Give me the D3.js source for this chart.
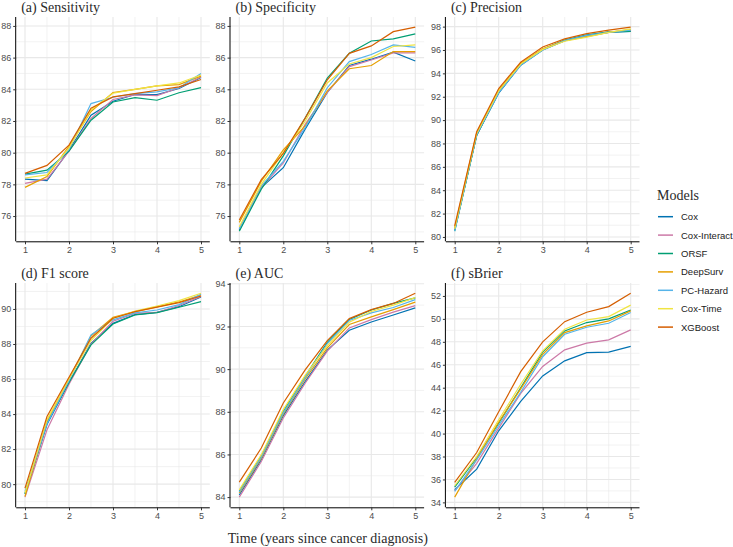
<!DOCTYPE html>
<html lang="en">
<head>
<meta charset="UTF-8">
<title>Model metrics over time</title>
<style>
  body { margin: 0; background: #fff; }
  svg { display: block; }
  .tick text { font-family: "Liberation Sans", Arial, sans-serif; font-size: 9px; fill: #4d4d4d; }
  .title { font-family: "Liberation Serif", "Times New Roman", serif; font-size: 14px; font-weight: 400; fill: #2a2a2a; }
  .legend-label { font-family: "Liberation Sans", Arial, sans-serif; font-size: 9.5px; fill: #1a1a1a; }
</style>
</head>
<body>
<script src="https://d3js.org/d3.v7.min.js"></script>
<script>
var width = 733, height = 547;

var years = [1, 1.5, 2, 2.5, 3, 3.5, 4, 4.5, 5];
var xTicks = [1, 2, 3, 4, 5];
var models = ["Cox", "Cox-Interact", "ORSF", "DeepSurv", "PC-Hazard", "Cox-Time", "XGBoost"];
var colors = ["#0072B2", "#CC79A7", "#009E73", "#E69F00", "#56B4E9", "#F0E442", "#D55E00"];

// one row per model, same order as models
var sensitivity = [
  [78.33, 78.23, 80.15, 82.37, 83.25, 83.67, 83.67, 84.05, 84.74],
  [78.06, 78.33, 80.10, 82.16, 83.36, 83.65, 83.60, 84.10, 84.78],
  [78.65, 78.90, 80.10, 82.05, 83.20, 83.48, 83.31, 83.78, 84.11],
  [77.81, 78.50, 80.40, 82.60, 83.80, 84.00, 84.22, 84.30, 84.83],
  [78.60, 78.75, 80.20, 83.10, 83.50, 83.73, 83.84, 84.10, 85.00],
  [78.40, 78.60, 80.30, 82.70, 83.75, 84.00, 84.22, 84.40, 84.90],
  [78.69, 79.20, 80.48, 82.80, 83.52, 83.73, 83.94, 84.15, 84.62]
];
var specificity = [
  [75.10, 77.80, 79.05, 81.50, 83.80, 85.50, 85.90, 86.35, 85.79],
  [75.20, 77.80, 79.35, 81.80, 83.80, 85.43, 85.85, 86.30, 86.30],
  [75.05, 77.70, 79.80, 82.20, 84.70, 86.27, 87.05, 87.18, 87.50],
  [75.60, 78.20, 80.17, 81.70, 83.90, 85.30, 85.50, 86.38, 86.38],
  [75.20, 77.90, 79.45, 81.60, 84.10, 85.75, 86.20, 86.80, 86.65],
  [75.32, 78.00, 80.00, 82.00, 84.40, 85.60, 86.00, 86.70, 86.80],
  [75.75, 78.30, 79.96, 82.20, 84.60, 86.27, 86.74, 87.64, 87.92]
];
var precision = [
  [80.60, 88.70, 92.30, 94.70, 96.00, 96.80, 97.20, 97.50, 97.60],
  [80.60, 88.75, 92.40, 94.75, 96.05, 96.80, 97.20, 97.55, 97.65],
  [80.50, 88.70, 92.40, 94.75, 96.05, 96.85, 97.30, 97.55, 97.60],
  [80.80, 88.90, 92.55, 94.85, 96.10, 96.80, 97.15, 97.50, 97.75],
  [80.50, 88.75, 92.35, 94.70, 96.00, 96.80, 97.25, 97.50, 97.70],
  [80.70, 88.85, 92.50, 94.80, 96.05, 96.75, 97.10, 97.50, 97.80],
  [80.95, 89.00, 92.70, 94.95, 96.25, 96.95, 97.40, 97.70, 97.95]
];
var f1score = [
  [79.45, 83.40, 85.80, 88.04, 89.18, 89.68, 89.81, 90.13, 90.68],
  [79.26, 83.10, 85.70, 88.00, 89.30, 89.75, 89.80, 90.20, 90.72],
  [79.45, 83.50, 85.80, 87.95, 89.14, 89.66, 89.79, 90.10, 90.42],
  [79.30, 83.60, 86.00, 88.46, 89.52, 89.85, 90.12, 90.40, 90.80],
  [79.58, 83.45, 85.90, 88.52, 89.38, 89.78, 89.94, 90.25, 90.84],
  [79.50, 83.67, 86.00, 88.20, 89.47, 89.88, 90.17, 90.48, 90.90],
  [79.77, 83.86, 86.10, 88.33, 89.47, 89.85, 90.10, 90.36, 90.74]
];
var auc = [
  [84.10, 85.75, 87.82, 89.43, 90.89, 91.82, 92.21, 92.54, 92.87],
  [84.00, 85.67, 87.71, 89.35, 90.84, 91.93, 92.32, 92.67, 92.98],
  [84.27, 85.92, 88.02, 89.67, 91.26, 92.33, 92.77, 93.08, 93.34],
  [84.19, 85.83, 87.90, 89.55, 91.00, 92.09, 92.45, 92.79, 93.14],
  [84.24, 85.88, 87.95, 89.62, 91.20, 92.28, 92.64, 92.89, 93.26],
  [84.34, 85.99, 88.10, 89.72, 91.10, 92.20, 92.70, 93.00, 93.35],
  [84.70, 86.30, 88.41, 89.98, 91.34, 92.37, 92.79, 93.08, 93.56]
];
var sbrier = [
  [35.10, 36.90, 40.24, 42.80, 45.03, 46.34, 47.06, 47.10, 47.60],
  [35.00, 37.40, 40.47, 43.50, 45.85, 47.30, 47.88, 48.17, 49.04],
  [35.33, 37.90, 40.90, 44.00, 47.10, 48.95, 49.68, 50.00, 50.78],
  [34.46, 37.80, 41.00, 43.90, 46.90, 48.80, 49.39, 49.82, 50.70],
  [34.96, 37.70, 40.70, 43.60, 46.70, 48.66, 49.27, 49.62, 50.55],
  [35.45, 38.00, 41.20, 44.30, 47.20, 49.10, 49.90, 50.20, 51.20],
  [35.74, 38.35, 41.90, 45.40, 48.00, 49.76, 50.58, 51.07, 52.24]
];

var titles = ["(a) Sensitivity", "(b) Specificity", "(c) Precision", "(d) F1 score", "(e) AUC", "(f) sBrier"];
var yTicks = [
  d3.range(76, 89, 2), d3.range(76, 89, 2), d3.range(80, 99, 2),
  d3.range(80, 91, 2), d3.range(84, 95, 2), d3.range(34, 53, 2)
];
var panelData = [sensitivity, specificity, precision, f1score, auc, sbrier];
// (a) and (b) share one y range
var rangeData = [sensitivity.concat(specificity), sensitivity.concat(specificity), precision, f1score, auc, sbrier];

var colLeft = [16.2, 230.5, 445.9], panelW = 193.6;
var rowTop = [17, 283], panelH = 224.3;

var svg = d3.select('body').append('svg')
    .attr('width', width)
    .attr('height', height);

function expand(ext) {
  var pad = (ext[1] - ext[0]) * 0.05;
  return [ext[0] - pad, ext[1] + pad];
}

panelData.forEach(function(series, i) {
  var left = colLeft[i % 3], top = rowTop[Math.floor(i / 3)];
  var g = svg.append('g').attr('transform', 'translate(' + left + ',' + top + ')');

  var x = d3.scaleLinear().domain(expand([1, 5])).range([0, panelW]);
  var yDom = expand(d3.extent(d3.merge(rangeData[i])));
  var y = d3.scaleLinear().domain(yDom).range([panelH, 0]);

  var ys = yTicks[i];
  var step = ys[1] - ys[0];
  var yMinor = d3.range(ys[0] - step / 2, ys[ys.length - 1] + step, step)
      .filter(function(v) { return v >= yDom[0] && v <= yDom[1]; });
  var xMinor = [1.5, 2.5, 3.5, 4.5];

  // grid
  g.selectAll('.ymin').data(yMinor).enter().append('line')
    .attr('x1', 0).attr('x2', panelW)
    .attr('y1', function(d) { return y(d); }).attr('y2', function(d) { return y(d); })
    .attr('stroke', '#eaeaea').attr('stroke-width', 0.6);
  g.selectAll('.xmin').data(xMinor).enter().append('line')
    .attr('y1', 0).attr('y2', panelH)
    .attr('x1', function(d) { return x(d); }).attr('x2', function(d) { return x(d); })
    .attr('stroke', '#eaeaea').attr('stroke-width', 0.6);
  g.selectAll('.ymaj').data(ys).enter().append('line')
    .attr('x1', 0).attr('x2', panelW)
    .attr('y1', function(d) { return y(d); }).attr('y2', function(d) { return y(d); })
    .attr('stroke', '#e8e8e8').attr('stroke-width', 1.1);
  g.selectAll('.xmaj').data(xTicks).enter().append('line')
    .attr('y1', 0).attr('y2', panelH)
    .attr('x1', function(d) { return x(d); }).attr('x2', function(d) { return x(d); })
    .attr('stroke', '#e8e8e8').attr('stroke-width', 1.1);

  // lines
  var line = d3.line()
    .x(function(d, j) { return x(years[j]); })
    .y(function(d) { return y(d); });
  g.selectAll('path.line').data(series).enter().append('path')
    .attr('class', 'line')
    .attr('fill', 'none')
    .attr('stroke', function(d, k) { return colors[k]; })
    .attr('stroke-width', 1.2)
    .attr('d', line);

  // axes
  var xAxis = g.append('g').attr('transform', 'translate(0,' + panelH + ')')
    .call(d3.axisBottom(x).tickValues(xTicks).tickSize(3).tickPadding(2).tickFormat(d3.format('d')));
  var yAxis = g.append('g')
    .call(d3.axisLeft(y).tickValues(ys).tickSize(3).tickPadding(2).tickFormat(d3.format('d')));
  [xAxis, yAxis].forEach(function(a) {
    a.select('.domain').attr('stroke', '#000').attr('stroke-width', 1);
    a.selectAll('.tick line').attr('stroke', '#333');
  });
  xAxis.select('.domain').attr('d', 'M0,0.5H' + panelW);
  yAxis.select('.domain').attr('d', 'M-0.5,0V' + panelH);

  svg.append('text').attr('class', 'title')
    .attr('x', left + 5).attr('y', top - 5.5)
    .text(titles[i]);
});

svg.append('text').attr('class', 'title')
  .attr('x', (colLeft[0] + colLeft[2] + panelW) / 2).attr('y', 543)
  .attr('text-anchor', 'middle')
  .text('Time (years since cancer diagnosis)');

// legend
var legend = svg.append('g').attr('transform', 'translate(657,0)');
legend.append('text').attr('class', 'title').attr('x', 0).attr('y', 200).text('Models');
var item = legend.selectAll('.item').data(models).enter().append('g')
  .attr('transform', function(d, k) { return 'translate(0,' + (216.7 + 18.4 * k) + ')'; });
item.append('line')
  .attr('x1', 1).attr('x2', 16).attr('y1', 0).attr('y2', 0)
  .attr('stroke', function(d, k) { return colors[k]; })
  .attr('stroke-width', 1.5);
item.append('text').attr('class', 'legend-label')
  .attr('x', 24).attr('y', 3.4)
  .text(function(d) { return d; });
</script>
</body>
</html>
